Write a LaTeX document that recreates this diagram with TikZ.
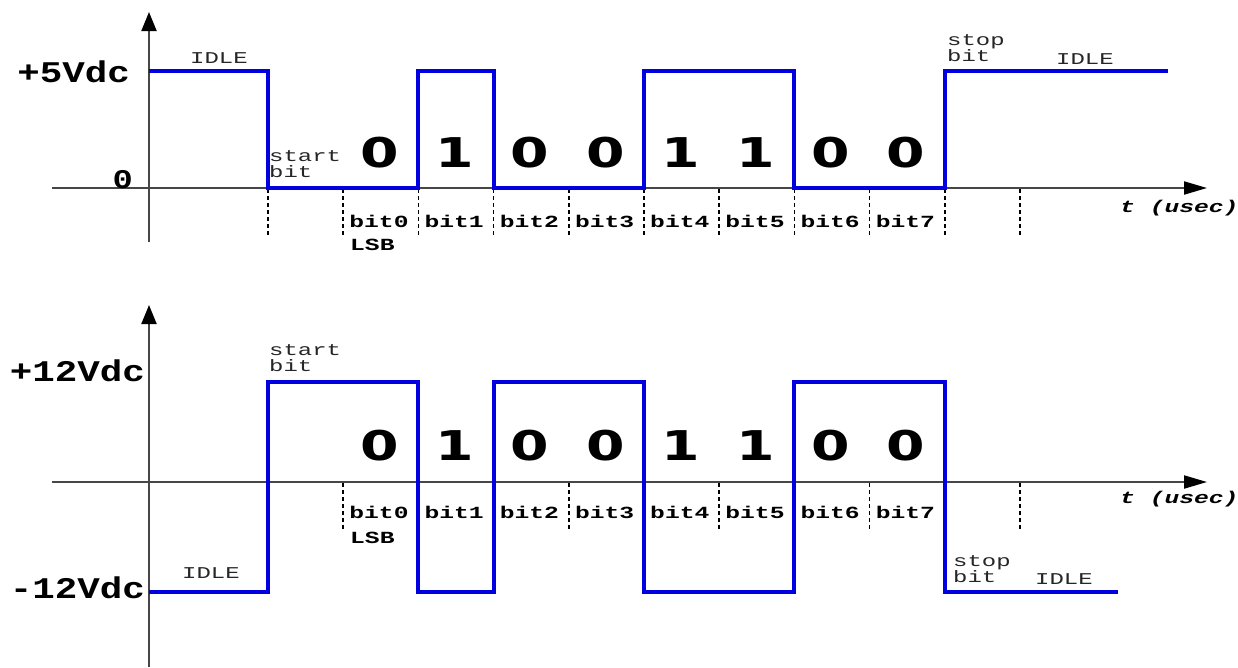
\documentclass[tikz,border=0pt]{standalone}
\usepackage{fontspec}
\usetikzlibrary{arrows.meta}
\newfontfamily\smallmono[FakeStretch=1.45]{Liberation Mono}
\newfontfamily\bigmono[FakeStretch=1.25]{Liberation Mono}
\newfontfamily\digitfont[FakeStretch=1.35]{DejaVu Sans}
\definecolor{sig}{RGB}{0,0,225}
\definecolor{axisgray}{RGB}{70,70,70}
\begin{document}
\begin{tikzpicture}[x=1pt,y=-1pt,
  axis/.style={draw=axisgray, line width=2pt},
  yarrow/.style={-{Triangle[length=19pt,width=15pt,color=black]}},
  xarrow/.style={-{Triangle[length=23pt,width=13pt,color=black]}},
  signal/.style={draw=sig, line width=4pt, line join=miter},
  tickline/.style={draw=black, line width=1.6pt, dash pattern=on 4pt off 3pt},
  lbl/.style={inner sep=0pt, anchor=base west, text=black!85, font=\smallmono\fontsize{16.5}{14}\selectfont},
  blbl/.style={inner sep=0pt, anchor=base west, text=black, font=\smallmono\bfseries\fontsize{17}{14}\selectfont},
  tlbl/.style={inner sep=0pt, anchor=base west, text=black, font=\smallmono\bfseries\itshape\fontsize{17}{14}\selectfont},
  level/.style={inner sep=0pt, anchor=base east, font=\bigmono\bfseries\fontsize{30}{30}\selectfont},
  digit/.style={inner sep=0pt, anchor=base, font=\digitfont\bfseries\fontsize{41}{41}\selectfont},
]
\useasboundingbox (0,0) rectangle (1238,667);

% ===== top panel =====
\draw[axis, yarrow] (149,242) -- (149,12);
\draw[axis, xarrow] (52,188) -- (1207,188);
\foreach \k in {0,...,10} {
  \draw[tickline] (268+75.2*\k,189) -- (268+75.2*\k,235);
}
\draw[signal] (149,71) -- (268,71) -- (268,188) -- (418.4,188) -- (418.4,71)
  -- (493.6,71) -- (493.6,188) -- (644,188) -- (644,71) -- (794.4,71)
  -- (794.4,188) -- (944.8,188) -- (944.8,71) -- (1168,71);

\node[level] (t5v) at (130,82) {+5Vdc};
\node[level, font=\bigmono\bfseries\fontsize{27}{27}\selectfont] (t0v) at (133,188) {0};
\node[lbl] (tidle1) at (190,63) {IDLE};
\node[lbl] (tstart) at (269,161) {start};
\node[lbl] (tstartb) at (269,177) {bit};
\node[lbl] (tstop) at (947,45) {stop};
\node[lbl] (tstopb) at (947,61) {bit};
\node[lbl] (tidle2) at (1056,64) {IDLE};
\node[tlbl] (tt) at (1120,212) {t (usec)};
\foreach \d [count=\i from 0] in {0,1,0,0,1,1,0,0} {
  \node[blbl] (tb\i) at (343.2+75.2*\i+6,227) {bit\i};
  \node[digit] (td\i) at (343.2+75.2*\i+36.5,167) {\d};
}
\node[blbl] (tlsb) at (350,250) {LSB};

% ===== bottom panel =====
\draw[axis, yarrow] (149,667) -- (149,305);
\draw[axis, xarrow] (52,482) -- (1207,482);
\foreach \k in {1,...,10} {
  \draw[tickline] (268+75.2*\k,483) -- (268+75.2*\k,529);
}
\draw[signal] (149,592) -- (268,592) -- (268,382) -- (418.4,382) -- (418.4,592)
  -- (493.6,592) -- (493.6,382) -- (644,382) -- (644,592) -- (794.4,592)
  -- (794.4,382) -- (944.8,382) -- (944.8,592) -- (1118,592);

\node[level] (b12p) at (145,381) {+12Vdc};
\node[level] (b12m) at (145,598) {-12Vdc};
\node[lbl] (bstart) at (269,355) {start};
\node[lbl] (bstartb) at (269,371) {bit};
\node[lbl] (bidle1) at (182,578) {IDLE};
\node[lbl] (bstop) at (953,566) {stop};
\node[lbl] (bstopb) at (953,582) {bit};
\node[lbl] (bidle2) at (1035,584) {IDLE};
\node[tlbl] (bt) at (1120,503) {t (usec)};
\foreach \d [count=\i from 0] in {0,1,0,0,1,1,0,0} {
  \node[blbl] (bb\i) at (343.2+75.2*\i+6,518) {bit\i};
  \node[digit] (bd\i) at (343.2+75.2*\i+36.5,460) {\d};
}
\node[blbl] (blsb) at (350,543) {LSB};
\end{tikzpicture}
\end{document}
